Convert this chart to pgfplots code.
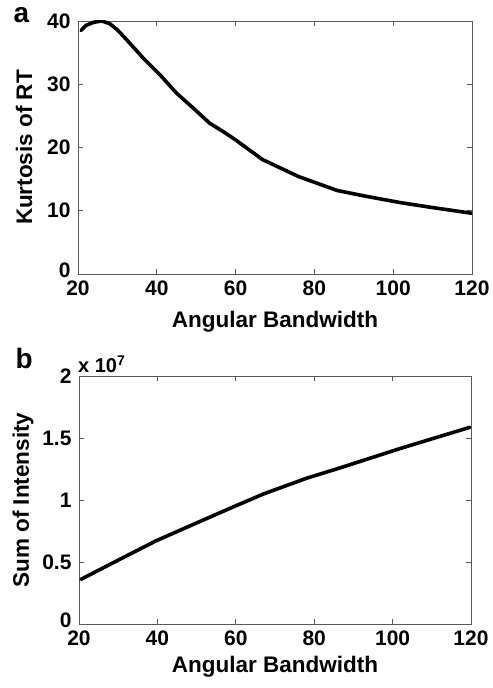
\documentclass[border=0pt]{standalone}
\usepackage{pgfplots}
\pgfplotsset{compat=1.18}
\usepackage{fontspec}
\setmainfont{Liberation Sans}
\begin{document}
\begin{tikzpicture}
\path (0pt,0pt) rectangle (491pt,688pt);
\pgfplotsset{
  mystyle/.style={
    scale only axis,
    xmin=20, xmax=120,
    xtick={20,40,60,80,100,120},
    tick align=inside,
    major tick length=5pt,
    axis line style={line width=0.8pt, black!65},
    every tick/.style={black!65, line width=0.8pt},
    /pgf/number format/assume math mode=true,
    ticklabel style={font=\fontsize{21}{21}\selectfont\bfseries},
    label style={font=\fontsize{22.5}{22.5}\selectfont\bfseries},
    xticklabel style={yshift=-3pt},
    yticklabel style={xshift=-4pt},
    extra y ticks={0},
    extra y tick style={yticklabel style={yshift=4pt}},
  }
}
\begin{axis}[mystyle,
  at={(78pt,414pt)}, anchor=south west,
  width=394pt, height=253pt,
  ymin=0, ymax=40,
  ytick={10,20,30,40},
  xlabel={Angular Bandwidth},
  ylabel={Kurtosis of RT},
  xlabel style={at={(rel axis cs:0.5,-0.19)}, anchor=center},
  ylabel style={at={(rel axis cs:-0.137,0.5)}, anchor=center},
]
\addplot[black, line width=3.6pt, line join=round, line cap=round] coordinates {
(20.8,38.5) (22,39.3) (24,39.8) (26,40.0) (28,39.6) (30,38.6) (32.4,37.0) (36.6,34.1) (40.8,31.5) (45,28.6) (49.3,26.2) (53.5,23.8) (56.9,22.5) (60,21.2) (66.8,18.1) (76,15.4) (85.8,13.2) (93,12.3) (101.7,11.3) (110,10.5) (120,9.6)
};
\end{axis}
\begin{axis}[mystyle,
  at={(79pt,64pt)}, anchor=south west,
  width=392pt, height=248pt,
  ymin=0, ymax=2,
  ytick={0.5,1,1.5,2},
  xlabel={Angular Bandwidth},
  ylabel={Sum of Intensity},
  xlabel style={at={(rel axis cs:0.5,-0.173)}, anchor=center},
  ylabel style={at={(rel axis cs:-0.143,0.5)}, anchor=center},
]
\addplot[black, line width=3.6pt, line join=round, line cap=round] coordinates {
(20.5,0.36) (30,0.515) (39.6,0.67) (50,0.815) (60,0.953) (67,1.048) (78,1.175) (86.5,1.258) (101.9,1.415) (119.7,1.586)
};
\end{axis}
\node[anchor=base west, font=\fontsize{28}{28}\selectfont\bfseries] at (10pt,665pt) {a};
\node[anchor=base west, font=\fontsize{28}{28}\selectfont\bfseries] at (12pt,319pt) {b};
\node[anchor=base west, font=\fontsize{20}{20}\selectfont\bfseries, inner sep=0pt] at (78pt,315pt) {x 10\textsuperscript{7}};
\end{tikzpicture}
\end{document}
